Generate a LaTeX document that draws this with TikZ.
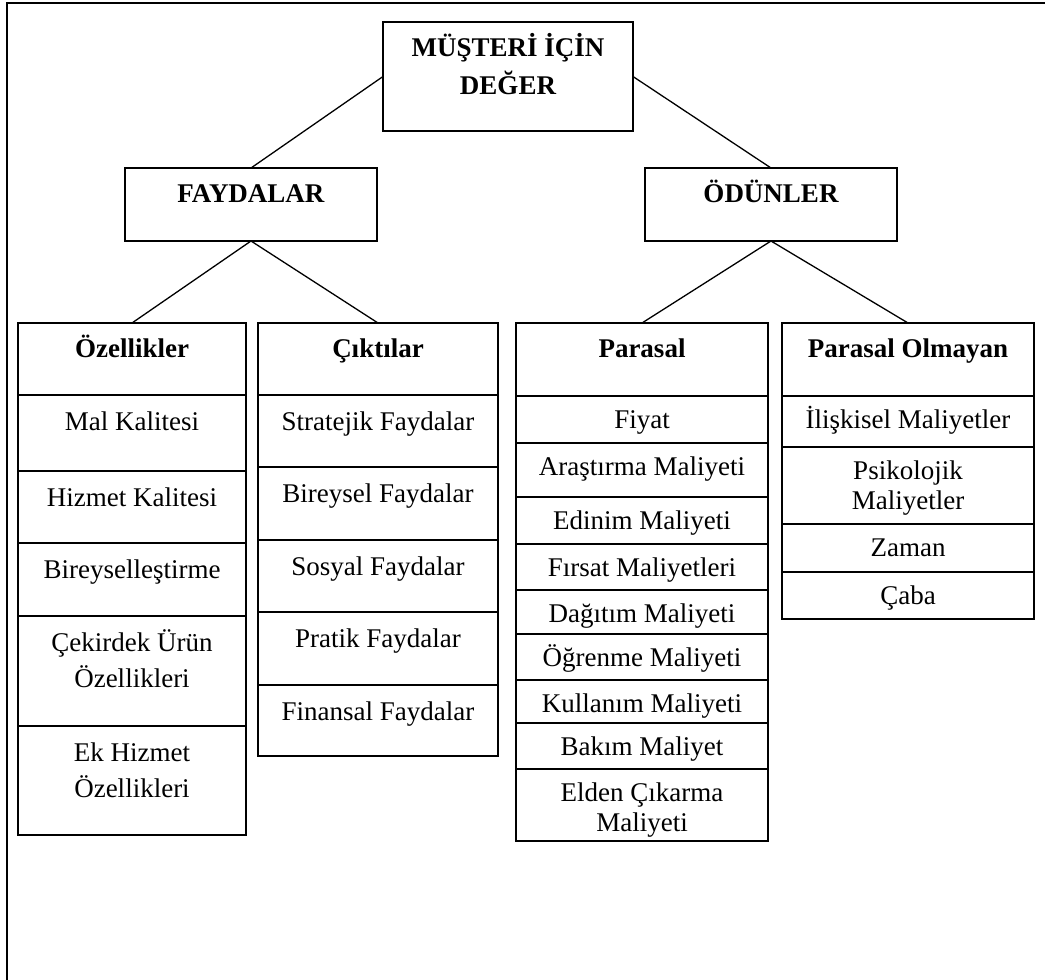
\documentclass[tikz,border=0pt]{standalone}
\usepackage{fontspec}
\setmainfont{Liberation Serif}
\begin{document}
\begin{tikzpicture}[x=1pt,y=-1pt,
  box/.style={draw, line width=1.6pt, rectangle, outer sep=0pt, inner sep=0pt, anchor=north west},
  txt/.style={anchor=north, inner sep=0pt, align=center},
  celltext/.style={txt, yshift=-11pt, font=\fontsize{27}{36}\selectfont},
  tighttext/.style={txt, yshift=-8pt, font=\fontsize{27}{30}\selectfont},
  headtext/.style={txt, yshift=-10pt, font=\fontsize{27}{38}\selectfont\bfseries},
  link/.style={line width=1.3pt},
  frameline/.style={line width=2.4pt}]

% page area and white background
\clip (0,0) rectangle (1045,980);
\fill[white] (0,0) rectangle (1045,980);

% open outer frame (runs off the right and bottom edges)
\draw[frameline] (7,990) -- (7,3) -- (1060,3);

% one table cell: name, left x, width, top y, height, text
\newcommand\cellbox[6]{%
  \node[box, minimum width=#3pt, minimum height=#5pt] (#1) at (#2,#4) {};
  \node[celltext] (#1-t) at (#1.north) {\rule{0pt}{.9em}#6};}
% same, for the closer-set cost columns
\newcommand\costbox[6]{%
  \node[box, minimum width=#3pt, minimum height=#5pt] (#1) at (#2,#4) {};
  \node[tighttext] (#1-t) at (#1.north) {\rule{0pt}{.9em}#6};}
% same, with bold text
\newcommand\headbox[6]{%
  \node[box, minimum width=#3pt, minimum height=#5pt] (#1) at (#2,#4) {};
  \node[headtext] (#1-t) at (#1.north) {\rule{0pt}{.9em}#6};}

% upper levels
\headbox{deger}{383}{250}{22}{109}{MÜŞTERİ İÇİN\\DEĞER}
\headbox{fayda}{125}{252}{168}{73}{FAYDALAR}
\headbox{odun}{645}{252}{168}{73}{ÖDÜNLER}

% Özellikler column
\headbox{ozel}{18}{228}{323}{72}{Özellikler}
\cellbox{oz1}{18}{228}{395}{76}{Mal Kalitesi}
\cellbox{oz2}{18}{228}{471}{72}{Hizmet Kalitesi}
\cellbox{oz3}{18}{228}{543}{73}{Bireyselleştirme}
\cellbox{oz4}{18}{228}{616}{110}{Çekirdek Ürün\\Özellikleri}
\cellbox{oz5}{18}{228}{726}{109}{Ek Hizmet\\Özellikleri}

% Çıktılar column
\headbox{cikti}{258}{240}{323}{72}{Çıktılar}
\cellbox{ck1}{258}{240}{395}{72}{Stratejik Faydalar}
\cellbox{ck2}{258}{240}{467}{73}{Bireysel Faydalar}
\cellbox{ck3}{258}{240}{540}{72}{Sosyal Faydalar}
\cellbox{ck4}{258}{240}{612}{73}{Pratik Faydalar}
\cellbox{ck5}{258}{240}{685}{71}{Finansal Faydalar}

% Parasal column
\headbox{para}{516}{252}{323}{73}{Parasal}
\costbox{pa1}{516}{252}{396}{47}{Fiyat}
\costbox{pa2}{516}{252}{443}{54}{Araştırma Maliyeti}
\costbox{pa3}{516}{252}{497}{47}{Edinim Maliyeti}
\costbox{pa4}{516}{252}{544}{46}{Fırsat Maliyetleri}
\costbox{pa5}{516}{252}{590}{44}{Dağıtım Maliyeti}
\costbox{pa6}{516}{252}{634}{46}{Öğrenme Maliyeti}
\costbox{pa7}{516}{252}{680}{43}{Kullanım Maliyeti}
\costbox{pa8}{516}{252}{723}{46}{Bakım Maliyet}
\costbox{pa9}{516}{252}{769}{72}{Elden Çıkarma\\Maliyeti}

% Parasal Olmayan column
\headbox{olm}{782}{252}{323}{73}{Parasal Olmayan}
\costbox{ol1}{782}{252}{396}{51}{İlişkisel Maliyetler}
\costbox{ol2}{782}{252}{447}{77}{Psikolojik\\Maliyetler}
\costbox{ol3}{782}{252}{524}{48}{Zaman}
\costbox{ol4}{782}{252}{572}{47}{Çaba}

% connectors
\draw[link] (deger.west) -- (fayda.north);
\draw[link] (deger.east) -- (odun.north);
\draw[link] (fayda.south) -- (ozel.north);
\draw[link] (fayda.south) -- (cikti.north);
\draw[link] (odun.south) -- (para.north);
\draw[link] (odun.south) -- (olm.north);
\end{tikzpicture}
\end{document}
